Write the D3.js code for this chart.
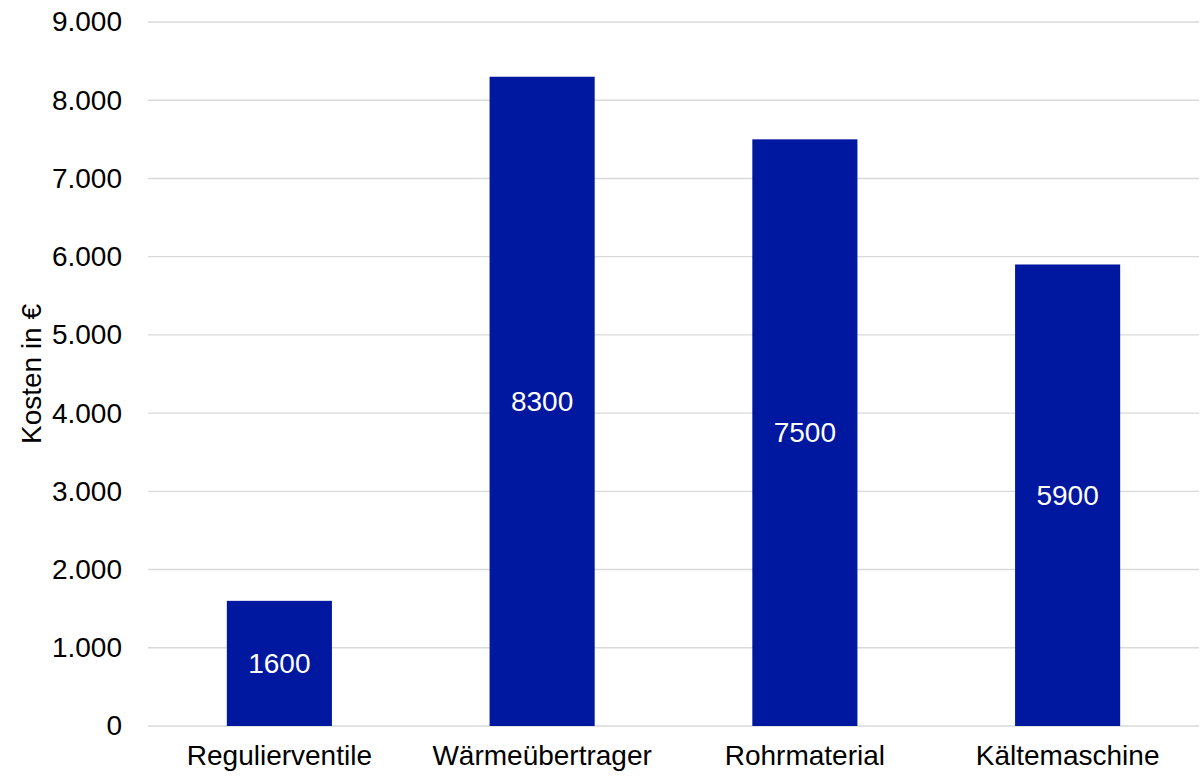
<!DOCTYPE html>
<html>
<head>
<meta charset="utf-8">
<script src="https://cdn.jsdelivr.net/npm/d3@7"></script>
<style>
  html, body { margin: 0; padding: 0; background: #fff; }
  svg { display: block; font-family: "Liberation Sans", Arial, sans-serif; }
</style>
</head>
<body>
<svg id="chart" width="1203" height="776"></svg>
<script>
// Kosten je Komponente
const categories = ["Regulierventile", "Wärmeübertrager", "Rohrmaterial", "Kältemaschine"];
const costs = [1600, 8300, 7500, 5900];
const yTicks = [0, 1000, 2000, 3000, 4000, 5000, 6000, 7000, 8000, 9000];
const yTitle = "Kosten in €";

const de = d3.formatLocale({ decimal: ",", thousands: ".", grouping: [3], currency: ["", " €"] });
const fmtTick = de.format(",.0f");
const FS = 28;

const svg = d3.select("#chart");
const margin = { top: 22, right: 4, bottom: 50, left: 148 };
const W = 1203, H = 776;
const innerW = W - margin.left - margin.right;
const innerH = H - margin.top - margin.bottom;

const g = svg.append("g").attr("transform", `translate(${margin.left},${margin.top})`);

const x = d3.scaleBand().domain(categories).range([0, innerW]).paddingInner(0.6).paddingOuter(0.3);
const y = d3.scaleLinear().domain([0, 9000]).range([innerH, 0]);

// horizontal gridlines
g.append("g").selectAll("line").data(yTicks).join("line")
  .attr("x1", 0).attr("x2", innerW)
  .attr("y1", d => y(d)).attr("y2", d => y(d))
  .attr("stroke", "#d9d9d9").attr("stroke-width", 1.4);

// y axis labels
const yAxis = g.append("g").call(d3.axisLeft(y).tickValues(yTicks).tickFormat(fmtTick).tickSize(0).tickPadding(26));
yAxis.select(".domain").remove();
yAxis.selectAll("text").attr("font-size", FS).attr("fill", "#000").attr("font-family", "Liberation Sans, Arial, sans-serif");

// x axis labels
const xAxis = g.append("g").attr("transform", `translate(0,${innerH})`)
  .call(d3.axisBottom(x).tickSize(0).tickPadding(19));
xAxis.select(".domain").remove();
xAxis.selectAll("text").attr("font-size", FS).attr("fill", "#000").attr("font-family", "Liberation Sans, Arial, sans-serif");

// bars
const data = categories.map((c, i) => ({ c, v: costs[i] }));
g.append("g").selectAll("rect").data(data).join("rect")
  .attr("x", d => x(d.c)).attr("width", x.bandwidth())
  .attr("y", d => y(d.v)).attr("height", d => y(0) - y(d.v))
  .attr("fill", "#0017a0");

// value labels centred in bars
g.append("g").selectAll("text").data(data).join("text")
  .attr("x", d => x(d.c) + x.bandwidth() / 2)
  .attr("y", d => (y(d.v) + y(0)) / 2)
  .attr("dy", "0.35em")
  .attr("text-anchor", "middle")
  .attr("font-size", FS).attr("fill", "#fff")
  .text(d => d.v);

// y axis title
svg.append("text")
  .attr("transform", `translate(41,374) rotate(-90)`)
  .attr("text-anchor", "middle")
  .attr("font-size", FS).attr("fill", "#000")
  .text(yTitle);
</script>
</body>
</html>
